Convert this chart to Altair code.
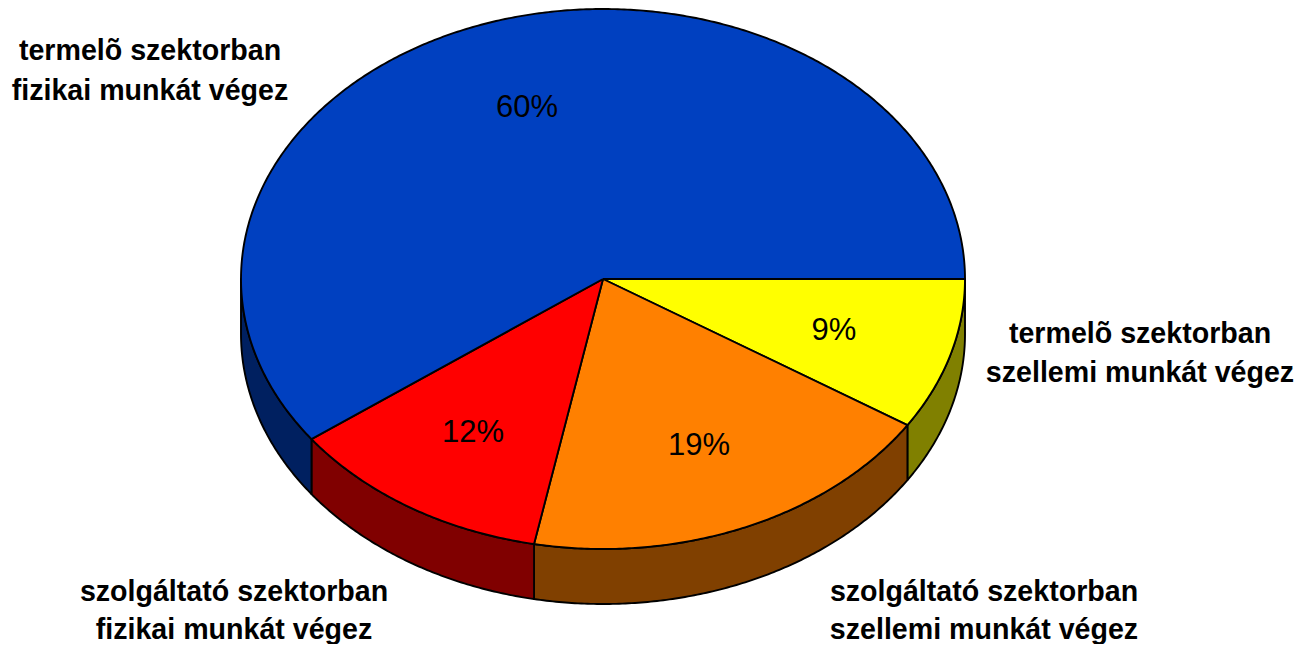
import math
import altair as alt
import pandas as pd

categories = ["termelõ szektorban szellemi munkát végez",
              "szolgáltató szektorban szellemi munkát végez",
              "szolgáltató szektorban fizikai munkát végez",
              "termelõ szektorban fizikai munkát végez"]
shares = [9.1, 18.95, 11.85, 60.1]
share_labels = ["9%", "19%", "12%", "60%"]
top_colors = ["#FFFF00", "#FF8000", "#FF0000", "#0040C0"]
side_colors = ["#808000", "#804000", "#800000", "#002060"]

W, H = 1287, 636
CX, CY, RX, RY, DEPTH = 595, 271, 362, 270, 55
depth_u = DEPTH / RY

top_rows, side_rows = [], []
start = 0.0
for i, (cat, share) in enumerate(zip(categories, shares)):
    end = start + share
    a0, a1 = start * 3.6, end * 3.6
    n = max(2, int((a1 - a0) * 2))
    arc = [math.radians(a0 + (a1 - a0) * k / n) for k in range(n + 1)]
    pts = [(0.0, 0.0)] + [(math.cos(t), math.sin(t)) for t in arc] + [(0.0, 0.0)]
    for k, (x, y) in enumerate(pts):
        top_rows.append(dict(key=f"t{i}", x=x, y=y, o=k))
    b0, b1 = a0, min(a1, 180.0)
    if b1 > b0:
        m = max(2, int((b1 - b0) * 2))
        rim = [math.radians(b0 + (b1 - b0) * k / m) for k in range(m + 1)]
        poly = [(math.cos(t), math.sin(t)) for t in rim] + \
               [(math.cos(t), math.sin(t) + depth_u) for t in reversed(rim)]
        poly.append(poly[0])
        for k, (x, y) in enumerate(poly):
            side_rows.append(dict(key=f"s{i}", x=x, y=y, o=k))
    start = end

x_scale = alt.Scale(domain=[-CX / RX, (W - CX) / RX], range=[0, W], nice=False, zero=False)
y_scale = alt.Scale(domain=[-CY / RY, (H - CY) / RY], range=[0, H], nice=False, zero=False)
X = lambda f="x": alt.X(f"{f}:Q", scale=x_scale, axis=None)
Y = lambda f="y": alt.Y(f"{f}:Q", scale=y_scale, axis=None)

def fill_scale(prefix, colors):
    return alt.Scale(domain=[f"{prefix}{i}" for i in range(len(colors))], range=colors)

sides = alt.Chart(pd.DataFrame(side_rows)).mark_line(stroke="black", strokeWidth=1.9, strokeJoin="round").encode(
    x=X(), y=Y(), order="o:Q",
    fill=alt.Fill("key:N", scale=fill_scale("s", side_colors), legend=None))
tops = alt.Chart(pd.DataFrame(top_rows)).mark_line(stroke="black", strokeWidth=1.9, strokeJoin="round").encode(
    x=X(), y=Y(), order="o:Q",
    fill=alt.Fill("key:N", scale=fill_scale("t", top_colors), legend=None))

# label centres in pixels of the plot area
pct_px = [(826, 323), (691, 438), (465, 425), (519, 100)]
name_px = [
    [(1132, 326), (1132, 365)],
    [(976, 584), (976, 622)],
    [(226, 584), (226, 622)],
    [(142, 43), (142, 83)],
]
lines = [["termelõ szektorban", "szellemi munkát végez"],
         ["szolgáltató szektorban", "szellemi munkát végez"],
         ["szolgáltató szektorban", "fizikai munkát végez"],
         ["termelõ szektorban", "fizikai munkát végez"]]

def ux(p): return (p - CX) / RX
def uy(p): return (p - CY) / RY

pct_df = pd.DataFrame([dict(x=ux(p[0]), y=uy(p[1]), t=s) for p, s in zip(pct_px, share_labels)])
name_df = pd.DataFrame([dict(x=ux(p[0]), y=uy(p[1]), t=t)
                        for ps, ls in zip(name_px, lines) for p, t in zip(ps, ls)])

pct = alt.Chart(pct_df).mark_text(font="Liberation Sans", fontSize=31, color="black", baseline="middle", align="center").encode(
    x=X(), y=Y(), text="t:N")
names = alt.Chart(name_df).mark_text(font="Liberation Sans", fontSize=28.6, fontWeight="bold", color="black", baseline="middle", align="center").encode(
    x=X(), y=Y(), text="t:N")

chart = (sides + tops + pct + names).resolve_scale(fill="independent").properties(
    width=W, height=H, padding=0, autosize=alt.AutoSizeParams(type="none"), background="white"
).configure_view(stroke=None)

chart.save("out.html", embed_options={"renderer": "svg", "actions": False})
